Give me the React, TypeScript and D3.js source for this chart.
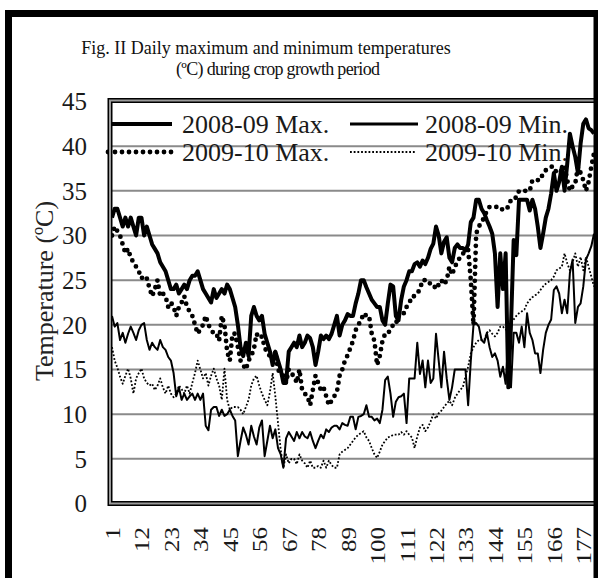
import React, { useEffect, useRef } from "react";
import * as d3 from "d3";

// category labels on the x axis (day of crop growth period)
const dayTicks = [1, 12, 23, 34, 45, 56, 67, 78, 89, 100, 111, 122, 133, 144, 155, 166, 177];
const tempTicks = [0, 5, 10, 15, 20, 25, 30, 35, 40, 45];

const titleLines = [
  "Fig. II Daily maximum and minimum temperatures",
  "(ºC) during crop growth period",
];

// daily values (days 1..181)
const max0809 = [
  32, 33, 33, 32, 31, 32, 31, 32, 31, 30,
  32, 32, 30, 31, 30, 29, 28.5, 28, 27, 26.5,
  26, 25, 24, 24, 24.5, 23.5, 24, 24.5, 24, 25,
  25.5, 25.5, 26, 25, 24, 23.5, 23, 22.5, 24, 23,
  23.5, 24, 23.5, 24.5, 24, 23, 22, 20, 17.5, 16.5,
  18, 16.5, 21, 22, 21, 20.5, 21, 19, 18, 17,
  15.5, 17, 16, 15, 13.5, 13.5, 17, 17.5, 18, 17.5,
  18.8, 17.5, 18, 18.8, 18.5, 17.5, 15.5, 17, 18.8, 18.4,
  18.8, 18.4, 19, 20, 21, 18.8, 20, 20.5, 21.2, 21,
  21, 22.4, 23.5, 25, 25, 24.2, 23.5, 22.8, 22.4, 22,
  22, 20.5, 20, 22.4, 24.5, 24.3, 21, 20.5, 22.8, 24.3,
  25, 26, 26, 26.8, 27, 26.5, 27.2, 26.8, 27.5, 28.5,
  29.1, 31, 30, 28, 29.3, 29.8, 27.5, 27, 28.6, 29,
  28.6, 28.6, 28.3, 29, 31.5, 32, 34, 34, 33, 32.5,
  31.7, 31, 30.2, 28, 22, 28, 24, 28, 13, 20,
  29.5, 27.8, 34, 34, 34, 34, 32.8, 34, 33, 31,
  28.6, 30.2, 32, 33, 34.7, 37, 35, 36, 37.7, 35,
  38, 41.4, 40, 38.8, 37, 40.3, 42.5, 43, 42, 41.8, 41.4,
];

const max0910 = [
  30, 31, 30.5, 30, 29, 28, 28.5, 27.5, 27, 26.5,
  26, 25.2, 25.5, 25.2, 24.1, 23.2, 24, 25, 23.2, 23.5,
  23.2, 22, 22.5, 22, 21, 22, 22.5, 23.2, 22, 21.5,
  21, 20, 19, 19.5, 20, 21, 20, 19.5, 19, 19,
  18.2, 21, 20, 17, 16, 19, 19, 17.5, 16, 15.5,
  15, 16, 16.5, 17.3, 19, 18.5, 18.7, 17.5, 16.8, 16.5,
  16, 17, 15, 14.5, 14.3, 13.5, 15, 14.5, 14.3, 13.5,
  15, 12.7, 12.3, 12, 11, 12.7, 14.3, 13.5, 12.7, 13,
  12, 11, 11.5, 12, 12.5, 14.3, 15, 16, 16.6, 17.4,
  18.2, 19.4, 20, 20.5, 21.3, 21, 21, 19, 18.2, 15.5,
  16.5, 18.2, 19, 19, 19.5, 20, 20, 21.3, 21.3, 21.3,
  22, 22.4, 23.2, 23.2, 23.5, 24, 25, 25, 25, 24.5,
  24.5, 24, 24.5, 25, 24.5, 25, 26.5, 25.6, 26.5, 27,
  27.6, 28, 28, 28.4, 25, 20, 30.2, 31, 31.5, 32,
  32.8, 33.2, 33.2, 33.2, 33.2, 33.2, 32.8, 33, 33.2, 34,
  34, 34.3, 35, 35, 35, 35, 35, 36.2, 36.2, 36.2,
  36.2, 37, 37.3, 37.5, 37.7, 37.7, 37, 37, 37.3, 37.7,
  36.2, 35, 35.5, 35.8, 37.7, 37, 36.2, 35, 36, 37.7, 39.2,
];

const min0809 = [
  21, 19.8, 20.2, 18.3, 19.1, 18, 19, 19.8, 19.1, 18.3,
  19.4, 20, 20.2, 18.3, 17.2, 18, 17.5, 17.2, 18.3, 17.5,
  17.2, 16.4, 16, 14.6, 12, 13, 11.6, 12.3, 11.6, 12,
  12.3, 11.6, 12.3, 11.6, 12.3, 8.7, 8.2, 10.5, 10.8, 10.8,
  9.8, 10.5, 9.8, 10, 10.5, 9.8, 9.3, 5.3, 7, 8.5,
  7.7, 6.6, 8.7, 7.5, 6.6, 8.5, 9.3, 5.3, 7, 8.7,
  7.3, 8.3, 6.2, 5.5, 4, 7.3, 8, 7.5, 7, 8,
  7.3, 8, 7.5, 7.3, 8, 7, 6.2, 7, 7.7, 7.3,
  8.3, 8, 8.5, 8.7, 8.7, 8.3, 9, 8.8, 8.7, 9.7,
  9.7, 8.3, 9.7, 9.8, 10, 11, 9.7, 9.7, 9.3, 9.5,
  9, 10.5, 13.8, 14.2, 12.3, 9.7, 11.4, 11.9, 12, 12.3,
  9, 14, 14, 14, 18, 14.5, 16, 13, 16, 13.5,
  14, 19, 16, 13, 17, 14, 11.6, 13, 15, 15,
  15, 15, 15, 11, 16, 20, 20.2, 19.8, 18.3, 18,
  19.1, 17.5, 16.4, 16.8, 16, 14.2, 15.3, 13.4, 18.3, 13,
  19.1, 19.1, 18, 19.8, 17.5, 21.3, 19.1, 18.3, 16.8, 16.8,
  14.6, 17.2, 19.1, 20, 20.6, 23.9, 24.3, 23.5, 21.3, 22.8,
  21.3, 25.8, 27.3, 20.2, 22, 22.4, 24.3, 27.3, 28, 28.8, 30.2,
];

const min0910 = [
  17.5, 16, 15.2, 14.2, 13.4, 14.3, 15.1, 14, 12.3, 14,
  14.6, 15.1, 14, 13.5, 13.2, 13.4, 12.7, 13.2, 14, 13,
  12.3, 13.2, 12.3, 11.9, 12.3, 13.2, 12.8, 12.3, 13.2, 12.3,
  13.5, 14.6, 16, 15, 14, 14.6, 13.2, 14.3, 15.1, 14,
  13.2, 11.6, 15.1, 11.6, 10.5, 10.8, 10.8, 10.8, 10.5, 10,
  10.8, 11.6, 13.2, 14, 14.3, 13.2, 12.3, 11.6, 11, 12.5,
  14.6, 12, 9, 6, 4, 5.5, 4.5, 5, 5, 4.4,
  5.5, 4.8, 4.5, 4, 4.8, 4, 4, 4.2, 4, 4.8,
  4, 4.8, 4.3, 4, 4, 5.5, 5.8, 6, 6.2, 6.6,
  7, 7.4, 7.7, 7.9, 8.1, 7.4, 7, 6.2, 5.5, 5.1,
  5.8, 6.6, 7, 7.4, 7.5, 7.7, 7.7, 7.7, 8, 7.7,
  8.1, 7.7, 7.4, 6.2, 7.5, 8.5, 8.8, 8.1, 8.5, 9.2,
  10, 9.5, 10.1, 10.4, 10.8, 11.2, 11.5, 11, 11.8, 12.3,
  12.7, 13, 14.2, 15.3, 16.8, 17.5, 18, 18.3, 18.3, 18.3,
  19.1, 19.4, 19, 18.7, 19.1, 19.8, 19.8, 19.5, 19.4, 20.2,
  20.6, 21, 21.3, 21.5, 21.7, 22.4, 22.8, 23.1, 23.3, 23.5,
  23.9, 24.3, 24.6, 24.8, 25, 25.4, 26.1, 26.3, 26.5, 28,
  26.9, 26.1, 27, 28, 26.5, 27.6, 26.1, 27.6, 26.5, 25.4, 24.3,
];

const seriesNames = ["2008-09 Max.", "2009-10 Max.", "2008-09 Min.", "2009-10 Min."];

const FONT = "'Liberation Serif', 'Times New Roman', serif";

const styles = [
  { width: 4, dash: null as string | null, cap: "butt" },
  { width: 4.8, dash: "0 7", cap: "round" },
  { width: 2, dash: null as string | null, cap: "butt" },
  { width: 1.8, dash: "1.8 1.9", cap: "butt" },
];

const App: React.FC = () => {
  const svgRef = useRef<SVGSVGElement>(null);

  useEffect(() => {
    if (!svgRef.current) return;
    const svg = d3.select(svgRef.current);
    svg.selectAll("*").remove();

    const left = 110;
    const right = 600;
    const top = 101.5;
    const bottom = 503.5;

    const x = d3.scaleLinear().domain([1, 181]).range([112, 594]);
    const y = d3.scaleLinear().domain([0, 45]).range([bottom, top]);

    svg.append("rect").attr("width", 598).attr("height", 578).attr("fill", "#fff");

    // title
    const title = svg
      .append("g")
      .selectAll("text")
      .data(titleLines)
      .join("text")
      .attr("x", (_, i) => (i === 0 ? 266 : 278))
      .attr("y", (_, i) => 54 + i * 21)
      .attr("text-anchor", "middle")
      .attr("font-family", FONT)
      .attr("font-size", 18)
      .attr("fill", "#111")
      .text((d) => d);
    title.filter((_, i) => i === 1).attr("textLength", 204).attr("lengthAdjust", "spacing");

    // gridlines
    svg
      .append("g")
      .selectAll("line")
      .data(tempTicks.filter((t) => t > 0 && t < 45))
      .join("line")
      .attr("x1", left)
      .attr("x2", right)
      .attr("y1", (d) => y(d))
      .attr("y2", (d) => y(d))
      .attr("stroke", "#8a8a8a")
      .attr("stroke-width", 2);

    // y tick labels
    svg
      .append("g")
      .selectAll("text")
      .data(tempTicks)
      .join("text")
      .attr("x", 87)
      .attr("y", (d) => y(d))
      .attr("dy", "0.35em")
      .attr("text-anchor", "end")
      .attr("font-family", FONT)
      .attr("font-size", 25)
      .attr("fill", "#1a1a1a")
      .text((d) => d);

    // x tick labels (rotated)
    svg
      .append("g")
      .selectAll("text")
      .data(dayTicks)
      .join("text")
      .attr("transform", (d) => `translate(${x(d) + 1},527) scale(0.8,1) rotate(-90)`)
      .attr("dy", "0.35em")
      .attr("text-anchor", "end")
      .attr("font-family", FONT)
      .attr("font-size", 25)
      .attr("fill", "#1a1a1a")
      .text((d) => d);

    // y axis title
    svg
      .append("text")
      .attr("transform", "translate(53,291) rotate(-90)")
      .attr("text-anchor", "middle")
      .attr("font-family", FONT)
      .attr("font-size", 26)
      .attr("fill", "#222")
      .text("Temperature (ºC)");

    // legend
    const legendPos = [
      { x1: 110, x2: 172, tx: 182, ly: 124, ty: 133 },
      { x1: 108, x2: 172, tx: 182, ly: 152, ty: 161 },
      { x1: 350, x2: 418, tx: 425, ly: 124, ty: 133 },
      { x1: 350, x2: 416, tx: 425, ly: 152, ty: 161 },
    ];
    const lg = svg.append("g");
    seriesNames.forEach((name, i) => {
      const p = legendPos[i];
      const s = styles[i];
      const ln = lg
        .append("line")
        .attr("x1", p.x1)
        .attr("x2", p.x2)
        .attr("y1", p.ly)
        .attr("y2", p.ly)
        .attr("stroke", "#000")
        .attr("stroke-width", i === 2 ? 3.2 : s.width)
        .attr("stroke-linecap", s.cap);
      if (s.dash) ln.attr("stroke-dasharray", s.dash);
      lg.append("text")
        .attr("x", p.tx)
        .attr("y", p.ty)
        .attr("font-family", FONT)
        .attr("font-size", 26)
        .attr("fill", "#1a1a1a")
        .text(name);
    });

    // data lines
    svg
      .append("clipPath")
      .attr("id", "plotClip")
      .append("rect")
      .attr("x", left)
      .attr("y", top - 4)
      .attr("width", 486)
      .attr("height", bottom - top + 4);

    const line = d3
      .line<number>()
      .x((_, i) => x(i + 1))
      .y((d) => y(d));

    const series = [max0809, max0910, min0809, min0910];
    const dg = svg.append("g").attr("clip-path", "url(#plotClip)");
    series.forEach((data, i) => {
      const s = styles[i];
      const p = dg
        .append("path")
        .datum(data)
        .attr("fill", "none")
        .attr("stroke", "#000")
        .attr("stroke-width", s.width)
        .attr("stroke-linejoin", "round")
        .attr("stroke-linecap", s.cap)
        .attr("d", line);
      if (s.dash) p.attr("stroke-dasharray", s.dash);
    });

    // plot area border (double line)
    svg
      .append("rect")
      .attr("x", left)
      .attr("y", top - 1)
      .attr("width", right - left + 10)
      .attr("height", bottom - top + 1)
      .attr("fill", "none")
      .attr("stroke", "#000")
      .attr("stroke-width", 5);
    svg
      .append("rect")
      .attr("x", left)
      .attr("y", top - 1)
      .attr("width", right - left + 10)
      .attr("height", bottom - top + 1)
      .attr("fill", "none")
      .attr("stroke", "#9a9a9a")
      .attr("stroke-width", 2);

    // outer frame
    svg
      .append("rect")
      .attr("x", 8.5)
      .attr("y", 13.5)
      .attr("width", 588.5)
      .attr("height", 620)
      .attr("fill", "none")
      .attr("stroke", "#000")
      .attr("stroke-width", 7);
  }, []);

  return (
    <svg
      ref={svgRef}
      width={598}
      height={578}
      style={{ position: "absolute", left: 0, top: 0, display: "block" }}
    />
  );
};

export default App;
